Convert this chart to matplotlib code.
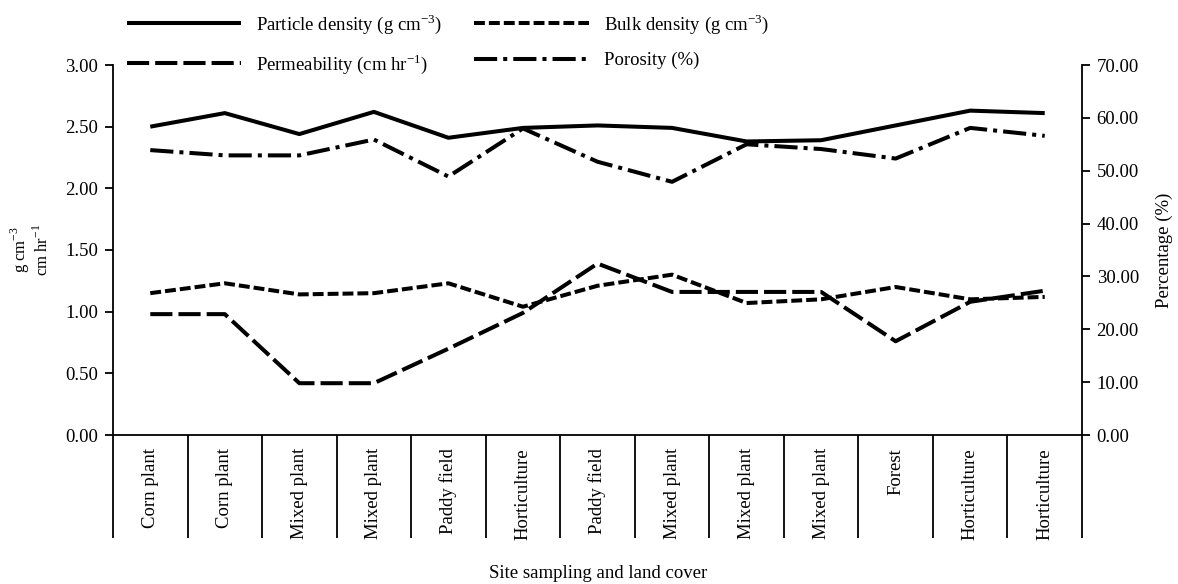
import matplotlib
matplotlib.use("Agg")
import matplotlib.pyplot as plt
import matplotlib.transforms as mtransforms
from matplotlib.ticker import FormatStrFormatter

categories = ["Corn plant", "Corn plant", "Mixed plant", "Mixed plant", "Paddy field",
              "Horticulture", "Paddy field", "Mixed plant", "Mixed plant", "Mixed plant",
              "Forest", "Horticulture", "Horticulture"]
particle_density = [2.50, 2.61, 2.44, 2.62, 2.41, 2.49, 2.51, 2.49, 2.38, 2.39, 2.51, 2.63, 2.61]
bulk_density = [1.15, 1.23, 1.14, 1.15, 1.23, 1.04, 1.21, 1.30, 1.07, 1.10, 1.20, 1.10, 1.12]
permeability = [0.98, 0.98, 0.42, 0.42, 0.70, 0.99, 1.39, 1.16, 1.16, 1.16, 0.76, 1.08, 1.17]
porosity = [53.9, 52.9, 52.9, 55.9, 48.9, 58.0, 51.7, 47.9, 55.0, 54.1, 52.3, 58.1, 56.6]

plt.rcParams['font.family'] = ['Liberation Serif', 'DejaVu Serif']
plt.rcParams['mathtext.fontset'] = 'custom'
plt.rcParams['mathtext.rm'] = 'Liberation Serif'
fs = 13.5

fig = plt.figure(figsize=(11.78, 5.84), dpi=100)
ax = fig.add_axes([113/1178, 1-435/584, (1082-113)/1178, (435-65)/584])
ax2 = ax.twinx()

x = [i + 0.5 for i in range(len(categories))]
lw = 2.9
l1, = ax.plot(x, particle_density, color='black', lw=lw, solid_capstyle='butt',
              label=r'Particle density (g cm$^{-3}$)')
l2, = ax.plot(x, bulk_density, color='black', lw=lw, linestyle=(0, (2.7, 1.0)),
              dash_capstyle='butt', label=r'Bulk density (g cm$^{-3}$)')
l3, = ax.plot(x, permeability, color='black', lw=lw, linestyle=(0, (5.5, 1.5)),
              dash_capstyle='butt', label=r'Permeability (cm hr$^{-1}$)')
l4, = ax2.plot(x, porosity, color='black', lw=lw, linestyle=(0, (5.75, 1.5, 1.0, 1.5)),
               dash_capstyle='butt', label='Porosity (%)')

ax.set_xlim(0, len(categories))
ax.set_ylim(0, 3.0)
ax2.set_ylim(0, 70)
ax.set_yticks([0, 0.5, 1.0, 1.5, 2.0, 2.5, 3.0])
ax2.set_yticks([0, 10, 20, 30, 40, 50, 60, 70])
ax.yaxis.set_major_formatter(FormatStrFormatter('%.2f'))
ax2.yaxis.set_major_formatter(FormatStrFormatter('%.2f'))
ax.set_xticks([])
for a in (ax, ax2):
    a.spines['top'].set_visible(False)
    a.tick_params(axis='y', direction='out', length=5.5, width=1.3, labelsize=fs, pad=5)
ax2.spines['left'].set_visible(False)
ax2.spines['bottom'].set_visible(False)
ax.spines['right'].set_visible(False)
for s in ('left', 'bottom'):
    ax.spines[s].set_linewidth(1.3)
ax2.spines['right'].set_linewidth(1.3)

# category cells below axis
trans = mtransforms.blended_transform_factory(ax.transData, ax.transAxes)
cell_depth = (538 - 435) / 370
for i in range(len(categories) + 1):
    ax.plot([i, i], [0, -cell_depth], transform=trans, color='black', lw=1.3,
            clip_on=False, solid_capstyle='butt')
for i, c in enumerate(categories):
    ax.text(i + 0.5, -13/370, c, transform=trans, rotation=90, ha='center', va='top',
            fontsize=fs)

ax.set_ylabel('g cm$^{-3}$\ncm hr$^{-1}$', fontsize=12, labelpad=10, linespacing=1.0)
ax2.set_ylabel('Percentage (%)', fontsize=fs, labelpad=12)
fig.text(598/1178, 1 - 573/584, 'Site sampling and land cover', ha='center', va='center',
         fontsize=fs)

fig.legend(handles=[l1, l3, l2, l4], loc='upper left', bbox_to_anchor=(127/1178, 1 - 12/584),
           ncol=2, frameon=False, fontsize=fs, handlelength=6.1, columnspacing=1.7,
           labelspacing=0.85, handletextpad=0.8, borderpad=0, borderaxespad=0)

fig.savefig('out.png', dpi=100)
